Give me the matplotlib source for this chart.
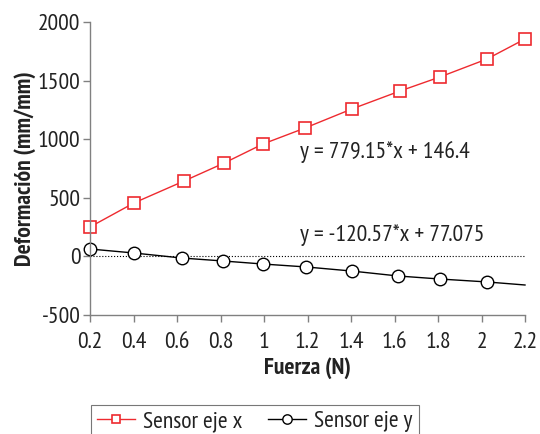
import matplotlib
matplotlib.use("Agg")
import matplotlib.pyplot as plt

plt.rcParams['font.family'] = ['PT Sans Narrow', 'DejaVu Sans']

# datos
fuerza_x = [0.2, 0.402, 0.632, 0.816, 0.995, 1.188, 1.404, 1.625, 1.809, 2.025, 2.2]
def_x = [251, 456, 643, 796, 959, 1095, 1258, 1411, 1531, 1684, 1855]

fuerza_y = [0.2, 0.402, 0.623, 0.811, 0.995, 1.193, 1.404, 1.616, 1.809, 2.025, 2.2]
def_y = [63, 29, -14, -39, -65, -90, -125, -167, -193, -218, -244]

xticks = [0.2, 0.4, 0.6, 0.8, 1, 1.2, 1.4, 1.6, 1.8, 2, 2.2]
yticks = [-500, 0, 500, 1000, 1500, 2000]

eq_x = "y = 779.15*x + 146.4"
eq_y = "y = -120.57*x + 77.075"

fig = plt.figure(figsize=(5.4, 4.34), dpi=100)
ax = fig.add_axes([90/540, 1-315/434, (525-90)/540, (315-22)/434])

ax.plot([0.2, 2.2], [0, 0], ':', color='black', lw=0.8)
ax.plot(fuerza_x, def_x, '-s', color='#ee2a2f', lw=1.0, ms=8, mfc='white',
        mec='#ee2a2f', mew=1.2, label='Sensor eje x', clip_on=False)
ax.plot(fuerza_y, def_y, '-o', color='black', lw=1.0, ms=9, mfc='white',
        mec='black', mew=1.0, markevery=list(range(10)), label='Sensor eje y',
        clip_on=False)

ax.text(1.165, 891, eq_x, fontsize=17, color='#222222', va='center')
ax.text(1.165, 183, eq_y, fontsize=17, color='#222222', va='center')

ax.set_xlim(0.2, 2.2)
ax.set_ylim(-500, 2000)
ax.set_xticks(xticks)
ax.set_xticklabels(['0.2', '0.4', '0.6', '0.8', '1', '1.2', '1.4', '1.6', '1.8', '2', '2.2'])
ax.set_yticks(yticks)
ax.set_yticklabels([str(v) for v in yticks])

for s in ['top', 'right']:
    ax.spines[s].set_visible(False)
for s in ['left', 'bottom']:
    ax.spines[s].set_color('#808080')
    ax.spines[s].set_linewidth(1.0)
ax.tick_params(direction='out', length=5, width=1, color='#808080',
               labelsize=17, labelcolor='#222222')
ax.tick_params(axis='x', pad=7)
ax.tick_params(axis='y', pad=2)

ax.set_xlabel('Fuerza (N)', fontsize=17, fontweight='bold', color='#222222', labelpad=3)
ax.set_ylabel('Deformación (mm/mm)', fontsize=17, fontweight='bold', color='#222222', labelpad=1)

leg = fig.legend(loc='upper left', bbox_to_anchor=(91/540, 1-405/434), ncol=2,
                 frameon=True, fancybox=False, edgecolor='#555555', fontsize=17,
                 handlelength=1.6, handletextpad=0.35, columnspacing=1.1,
                 borderpad=0.25, borderaxespad=0, markerscale=0.75,
                 labelcolor='#222222')
leg.get_frame().set_linewidth(0.8)

fig.savefig('out.png', dpi=100)
